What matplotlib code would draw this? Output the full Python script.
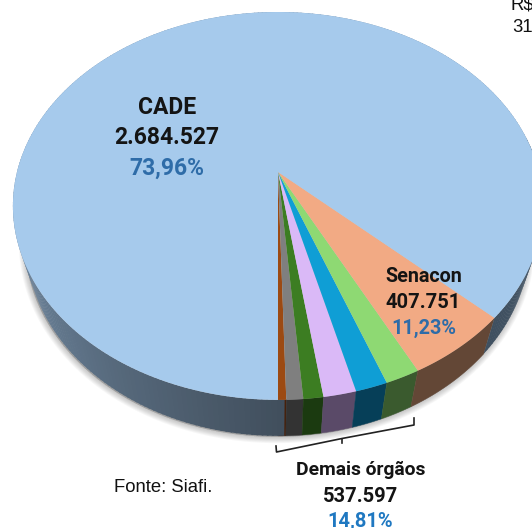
import numpy as np
import matplotlib
matplotlib.use("Agg")
import matplotlib.pyplot as plt

# tamanho de cada fatia como aparece no desenho (graus no disco, sentido anti-horario a partir de baixo)
fatias = ["Laranja escuro", "Cinza", "Verde escuro", "Lilas", "Azul", "Verde claro", "Senacon", "CADE"]
graus = [1.5, 3.1, 3.7, 6.1, 6.0, 6.5, 20.0, 313.1]
cores_topo = ["#9C4A12", "#7F7F7F", "#3C7D22", "#DAB9F7", "#0F9ED5", "#8ED973", "#F2AA84", "#A6CAEC"]
cores_lado = ["#47200A", "#333333", "#1B3A10", "#5A4A68", "#063F58", "#3A5A2E", "#634736", "#44586A"]

rotulos_cade = ["CADE", "2.684.527", "73,96%"]
rotulos_senacon = ["Senacon", "407.751", "11,23%"]
rotulos_demais = ["Demais órgãos", "537.597", "14,81%"]

cx, cy = 278, 172
rx, ry, k = 261, 188, 0.175
prof = 36
enc = 0.95


def disco(ang):
    # ang em graus a partir de baixo, perspectiva simples
    t = np.radians(ang)
    u, v = np.sin(t), -np.cos(t)
    return cx + rx * u / (1 + k * v), cy - ry * v / (1 + k * v)


def embaixo(x, y):
    # borda de baixo da parede, um pouco mais estreita
    return cx + (x - cx) * enc, y + prof


def mistura(c1, c2, f):
    a = np.array(matplotlib.colors.to_rgb(c1))
    b = np.array(matplotlib.colors.to_rgb(c2))
    return a + (b - a) * f


fig = plt.figure(figsize=(5.32, 5.28), dpi=100)
ax = fig.add_axes([0, 0, 1, 1])
ax.set_xlim(0, 532)
ax.set_ylim(528, 0)
ax.axis("off")

# sombra
todo = np.linspace(0, 360, 361)
xs, ys = embaixo(*disco(todo))
for i in range(7):
    d = 7 - i
    ax.fill(xs - 1, ys + 1, color="#000000", alpha=0.03, lw=d * 1.3, zorder=1)

limites = np.concatenate([[0], np.cumsum(graus)])

# parede lateral
for i in range(len(graus)):
    a0, a1 = limites[i], limites[i + 1]
    if i < len(graus) - 1:
        tt = np.linspace(a0, a1, 30)
        x, y = disco(tt)
        xb, yb = embaixo(x, y)
        ax.fill(np.r_[x, xb[::-1]], np.r_[y, yb[::-1]], color=cores_lado[i], lw=0.3, zorder=2)
    else:
        passos = np.arange(a0, 360, 1.0)
        for p in passos:
            x, y = disco(np.array([p, p + 1.3]))
            xb, yb = embaixo(x, y)
            if p < 100:
                cor = mistura("#3F5060", "#46596B", (p - a0) / 40)
            else:
                f = np.clip((360 - p) / 90, 0, 1)
                cor = mistura("#414F5D", "#7C97B2", f)
            ax.fill(np.r_[x, xb[::-1]], np.r_[y, yb[::-1]], color=cor, lw=0, zorder=2)

# face de cima
for i in range(len(graus)):
    tt = np.linspace(limites[i], limites[i + 1], 200)
    x, y = disco(tt)
    ax.fill(np.r_[cx, x], np.r_[cy, y], color=cores_topo[i], lw=0, zorder=3)

# chave dos demais orgaos
ax.plot([276, 276.5, 342, 414, 414], [446, 452, 438.5, 425, 418], color="#222222", lw=1.2, zorder=4)
ax.plot([342, 342], [438.5, 443], color="#222222", lw=1.2, zorder=4)

fonte = "Roboto"
azul = "#2E6CA8"


def bloco(x, linhas, ys_txt, tams, cor_pct):
    for t, yy, c, tam in zip(linhas, ys_txt, ["#141414", "#141414", cor_pct], tams):
        ax.text(x, yy, t, ha="center", va="center", fontsize=tam, fontweight="bold",
                family=fonte, color=c, zorder=5)


bloco(167, rotulos_cade, [108, 138, 168.5], [16.5, 16.5, 16.5], azul)
bloco(423.5, rotulos_senacon, [276, 303, 328], [14.2, 14.5, 14.3], azul)
bloco(360.5, rotulos_demais, [470, 496, 521], [13.9, 14.5, 14.5], "#1F78C1")

ax.text(163.5, 487, "Fonte: Siafi.", ha="center", va="center", fontsize=13.3, family="Liberation Sans", color="#111111")
ax.text(510, 5, "R$", ha="left", va="center", fontsize=13.3, family="Liberation Sans", color="#111111")
ax.text(512, 27, "31", ha="left", va="center", fontsize=13.3, family="Liberation Sans", color="#111111")

plt.savefig("out.png", dpi=100)
